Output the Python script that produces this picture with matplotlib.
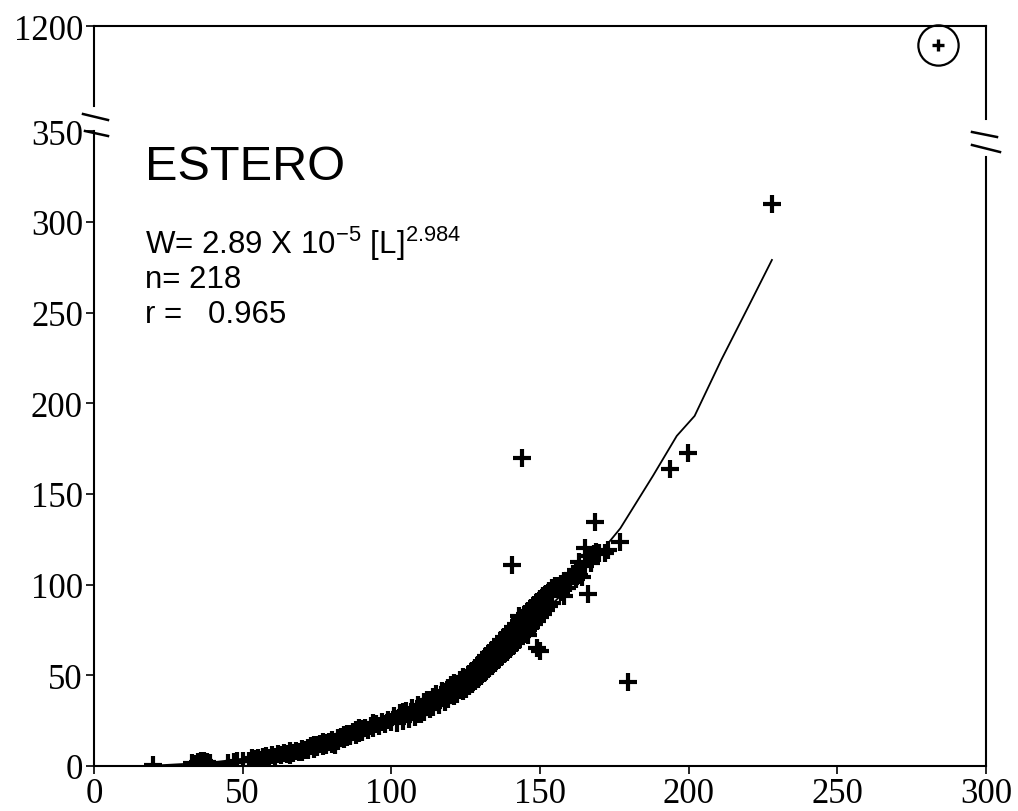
import matplotlib
matplotlib.use("Agg")
import matplotlib.pyplot as plt
from matplotlib.lines import Line2D
import numpy as np

plt.rcParams['mathtext.fontset'] = 'custom'
plt.rcParams['mathtext.rm'] = 'Liberation Sans'
plt.rcParams['mathtext.default'] = 'regular'

# length (mm) and weight (g) of the fish
length = [20, 33, 35, 36, 37, 37, 38, 45, 47, 48, 52, 54, 55, 56, 57, 58, 59, 60, 61, 62, 63, 64, 65, 66, 67,
          68, 69, 70, 71, 72, 72, 73, 74, 75, 75, 76, 77, 78, 78, 79, 80, 80, 81, 82, 82, 83, 84, 84, 85, 86,
          86, 87, 88, 88, 89, 90, 90, 91, 92, 93, 94, 95, 96, 97, 98, 99, 100,
          101, 102, 103, 104, 105, 106, 107, 108, 109, 110, 111, 111, 112, 113, 114, 114, 115, 116, 117, 118,
          119, 119, 120, 121, 121, 122, 123, 124, 124, 125, 126, 126, 127, 127, 128, 128, 129, 129, 130, 130,
          131, 131, 132, 132, 133, 133, 134, 134, 135, 135, 135, 136, 136, 137, 137, 138, 138, 139, 139, 140,
          140, 141, 141, 142, 142, 143, 143, 144, 144, 145, 145, 146, 146, 147, 147, 148, 148, 149, 149, 150,
          150, 151, 151, 152, 152, 153, 153, 154, 154, 155, 150, 149, 146, 143,
          156, 156, 157, 157, 158, 158, 159, 160, 160, 161, 162, 162, 163, 163, 164, 165, 165, 166, 166, 167,
          168, 169, 170, 172, 173,
          140.6, 144, 168.5, 177, 179.6, 193.7, 199.8, 228,
          34, 36, 39, 50, 53, 66, 70, 74, 77, 81, 85, 89, 94, 104, 109, 113, 118, 123, 127, 132, 137, 141,
          147, 152]
weight = [0.6, 1.5, 2.0, 1.8, 2.5, 1.2, 2.2, 1.8, 2.4, 2.9, 3.0, 3.8, 4.2, 3.3, 4.9, 5.4, 4.6, 6.0, 5.2, 6.8,
          6.1, 7.4, 6.6, 8.0, 7.2,
          8.4, 7.7, 9.2, 8.6, 10.1, 9.0, 10.8, 9.6, 11.5, 10.4, 12.3, 11.0, 12.8, 11.8, 13.5, 12.4, 14.6, 13.2,
          15.3, 14.0, 16.1, 14.8, 17.0, 15.9, 17.6, 16.4, 18.5, 17.2, 19.6, 18.3, 20.2, 19.0, 21.1, 20.0, 22.0,
          21.0, 23.2, 22.1, 24.3, 23.0, 25.5, 24.4,
          27.5, 23.5, 29.0, 24.8, 30.4, 26.0, 32.0, 27.2, 33.6, 28.6, 35.2, 30.0, 36.5, 31.4, 38.2, 32.6, 39.6,
          33.8, 41.2, 35.3, 43.0, 36.8, 44.4, 38.4, 45.8, 39.8, 47.4, 41.2, 49.0, 42.6, 50.6, 44.0, 52.2, 45.4,
          53.8, 46.8, 55.5, 48.2, 57.0, 49.5,
          58.8, 51.2, 60.5, 52.6, 62.2, 54.0, 64.0, 55.4, 65.8, 57.0, 61.0, 67.5, 58.6, 69.2, 60.0, 71.0, 61.5,
          72.8, 63.0, 74.6, 64.6, 76.4, 66.2, 78.2, 68.0, 80.0, 69.6, 81.8, 71.4, 83.6, 73.0, 85.4, 74.8, 87.0,
          76.6, 88.8, 78.4, 90.5, 80.2, 92.0, 82.0, 93.5, 84.0, 95.0, 86.0, 96.5, 88.0, 98.0, 90.0, 99.0,
          63.5, 65.0, 72.0, 82.5,
          97.5, 99.0, 96.0, 100.5, 93.6, 102.0, 98.0, 104.0, 101.0, 106.0, 108.0, 103.0, 112.7, 105.5, 104.0,
          120.0, 110.0, 94.7, 116.0, 112.0, 117.0, 118.0, 117.6, 117.7, 119.0,
          110.6, 169.7, 134.6, 123.7, 46.5, 163.6, 172.4, 310,
          1.0, 2.8, 1.6, 2.6, 4.4, 6.2, 7.9, 11.7, 13.4, 11.6, 17.9, 20.8, 23.8, 29.5, 28.4, 36.4, 39.8, 41.8,
          51.2, 58.6, 66.2, 74.5, 76.5, 93.5]

# the one big fish above the break
big_length = [284]
big_weight = [1186]

# fitted curve as drawn
fit_length = [20, 40, 60, 80, 100, 120, 140, 160, 167, 172, 177, 188, 196, 202, 211, 220, 228]
fit_weight = [0.2, 2, 6, 14, 26, 43, 66, 99, 112, 121, 131, 160, 182, 193, 224, 253, 279]

W, H = 1018, 812
fig = plt.figure(figsize=(W / 100, H / 100), dpi=100)

def px(x, y):
    return (x / W, 1 - y / H)

serif = 'Liberation Serif'
sans = 'Liberation Sans'
lw = 1.5
tick_size = 25

# lower (main) panel
ax = fig.add_axes([94 / W, (H - 767) / H, 892 / W, 639 / H])
ax.set_xlim(0, 300)
ax.set_ylim(0, 352.3)
ax.plot(fit_length, fit_weight, color='black', lw=1.3, zorder=2)
ax.plot(length, weight, linestyle='none', marker='+', ms=12.5, mew=3.0, color='black', zorder=3)
ax.spines['top'].set_visible(False)
ax.spines['left'].set_bounds(0, 350)
ax.spines['right'].set_bounds(0, 336)
for s in ax.spines.values():
    s.set_linewidth(lw)
ax.set_xticks([0, 50, 100, 150, 200, 250, 300])
ax.set_yticks([0, 50, 100, 150, 200, 250, 300, 350])
ax.tick_params(direction='out', length=6, width=1.2, pad=2, labelsize=tick_size)
for lab in ax.get_xticklabels() + ax.get_yticklabels():
    lab.set_fontfamily(serif)

ax.text(17.2, 323.5, 'ESTERO', fontsize=35, family=sans, va='baseline')
ax.text(17, 283, r'W= 2.89 X 10$^{-5}$ [L]$^{2.984}$', fontsize=22.5, family=sans, va='baseline')
ax.text(17, 264, 'n= 218', fontsize=22.5, family=sans, va='baseline')
ax.text(17, 245, 'r =   0.965', fontsize=22.5, family=sans, va='baseline')

# upper panel above the axis break
top = fig.add_axes([94 / W, (H - 120) / H, 892 / W, 93 / H])
top.set_xlim(0, 300)
top.set_ylim(1130, 1200)
top.patch.set_visible(False)
top.plot(big_length, big_weight, linestyle='none', marker='+', ms=9, mew=2.4, color='black', clip_on=False)
top.plot(big_length, big_weight, linestyle='none', marker='o', ms=29, mew=1.6, mfc='none', mec='black',
         clip_on=False)
top.spines['bottom'].set_visible(False)
top.spines['left'].set_bounds(1140, 1200)
for s in top.spines.values():
    s.set_linewidth(lw)
top.set_xticks([])
top.set_yticks([1200])
top.tick_params(direction='out', length=6, width=1.2, pad=2, labelsize=tick_size)
for lab in top.get_yticklabels():
    lab.set_fontfamily(serif)

# break marks
for (x0, y0), (x1, y1) in [((83, 115), (108, 121)), ((85, 132), (108, 137)),
                           ((972, 133), (997, 138)), ((972, 146), (1000, 153))]:
    fig.add_artist(Line2D([px(x0, y0)[0], px(x1, y1)[0]], [px(x0, y0)[1], px(x1, y1)[1]],
                          color='black', lw=1.8))

fig.savefig('out.png', dpi=100)
